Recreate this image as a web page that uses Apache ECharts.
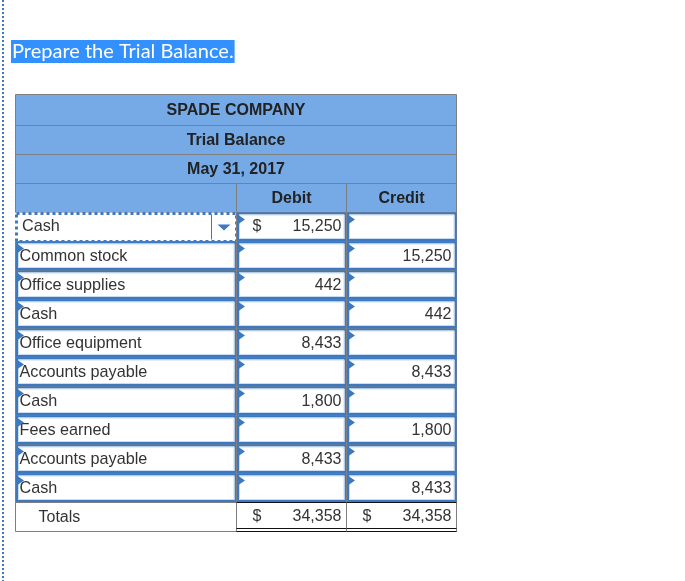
<!DOCTYPE html>
<html>
<head>
<meta charset="utf-8">
<title>Trial Balance</title>
<script src="https://cdn.jsdelivr.net/npm/echarts@6/dist/echarts.min.js"></script>
<style>
  html, body { margin: 0; padding: 0; background: #fff; }
  #chart { width: 685px; height: 581px; }
</style>
</head>
<body>
<div id="chart"></div>
<script>
'use strict'
var promptText = 'Prepare the Trial Balance.'
var headerLines = ['SPADE COMPANY', 'Trial Balance', 'May 31, 2017']
var columnHeads = ['Debit', 'Credit']
var accountNames = ['Cash', 'Common stock', 'Office supplies', 'Cash', 'Office equipment',
  'Accounts payable', 'Cash', 'Fees earned', 'Accounts payable', 'Cash']
var debitValues = [15250, null, 442, null, 8433, null, 1800, null, 8433, null]
var creditValues = [null, 15250, null, 442, null, 8433, null, 1800, null, 8433]
var totalsLabel = 'Totals'
var debitTotal = 34358
var creditTotal = 34358

var HEAD_BLUE = '#75aae6'
var GRID_GREY = '#7f7f7f'
var INPUT_BLUE = '#3c79c1'
var INPUT_PALE = '#c9dcf1'
var TEXT_DARK = '#333333'
var HEAD_TEXT = '#222222'
var BODY_FONT = '16px "Liberation Sans", Arial, sans-serif'
var NAME_FONT = '16.2px "Liberation Sans", Arial, sans-serif'
var BOLD_FONT = 'bold 16px "Liberation Sans", Arial, sans-serif'

// one band per table row, header rows first
var rowNames = headerLines.concat(['Columns'], accountNames, [totalsLabel])
var firstAccountRow = headerLines.length + 1
var totalsRow = rowNames.length - 1

function fmt (v) {
  return v === null ? '' : v.toLocaleString('en-US')
}

function snap (v) {
  return Math.floor(v) + 0.5
}

// pixel box of a cell from the axes
function cellBox (api) {
  var a = api.coord([api.value(0), api.value(2)])
  var b = api.coord([api.value(1), api.value(2)])
  var h = api.size([0, 1])[1]
  var x0 = snap(a[0])
  var x1 = snap(b[0])
  var y0 = snap(a[1] - h / 2)
  var y1 = snap(a[1] + h / 2)
  return { x: x0, y: y0, w: x1 - x0, h: y1 - y0 }
}

function label (text, x, y, align, font, fill) {
  return {
    type: 'text',
    style: { text: text, x: x, y: y, align: align, verticalAlign: 'middle', font: font, fill: fill }
  }
}

function triangle (x, y) {
  return {
    type: 'polygon',
    shape: { points: [[x, y], [x + 8, y + 5.5], [x, y + 11]] },
    style: { fill: INPUT_BLUE }
  }
}

function inputBox (b) {
  return [
    { type: 'rect', shape: { x: b.x, y: b.y, width: b.w, height: b.h }, style: { fill: '#fff', stroke: GRID_GREY, lineWidth: 1 } },
    { type: 'rect', shape: { x: b.x + 1.5, y: b.y + 1, width: b.w - 2.5, height: b.h - 2.5 }, style: { fill: '#fff', stroke: INPUT_BLUE, lineWidth: 2 } },
    { type: 'rect', shape: { x: b.x + 3, y: b.y + 2.5, width: b.w - 5.5, height: b.h - 5.5 }, style: { fill: '#fff', stroke: INPUT_PALE, lineWidth: 1 } }
  ]
}

function renderHeader (params, api) {
  var b = cellBox(api)
  var row = api.value(2)
  var top = row === 0 ? b.y - 31 + (b.h) : b.y
  var hgt = row === 0 ? 31 : b.h
  var text = row < headerLines.length ? headerLines[row] : (api.value(0) === 0 ? '' : columnHeads[api.value(0) - 2])
  return {
    type: 'group',
    children: [
      { type: 'rect', shape: { x: b.x, y: top, width: b.w, height: hgt }, style: { fill: HEAD_BLUE, stroke: GRID_GREY, lineWidth: 1 } },
      label(text, b.x + b.w / 2, top + hgt / 2 + 0.5, 'center', BOLD_FONT, HEAD_TEXT)
    ]
  }
}

function renderAccount (params, api) {
  var b = cellBox(api)
  var i = params.dataIndex
  if (i === 0) {
    // the focused dropdown row
    return {
      type: 'group',
      children: [
        { type: 'rect', shape: { x: b.x, y: b.y, width: b.w, height: b.h }, style: { fill: '#fff' } },
        { type: 'line', shape: { x1: b.x + b.w - 25, y1: b.y + 2, x2: b.x + b.w - 25, y2: b.y + b.h - 2 }, style: { stroke: INPUT_BLUE, lineWidth: 1 } },
        { type: 'rect', shape: { x: b.x + 1, y: b.y + 1, width: b.w - 1, height: b.h - 1 }, style: { fill: 'none', stroke: INPUT_BLUE, lineWidth: 3, lineDash: [3, 3] } },
        { type: 'polygon', shape: { points: [[b.x + b.w - 19, b.y + 12], [b.x + b.w - 6, b.y + 12], [b.x + b.w - 12.5, b.y + 18]] }, style: { fill: INPUT_BLUE } },
        label(accountNames[i], b.x + 6.5, b.y + b.h / 2 - 0.5, 'left', NAME_FONT, TEXT_DARK)
      ]
    }
  }
  return {
    type: 'group',
    children: inputBox(b).concat([
      label(accountNames[i], b.x + 4, b.y + b.h / 2 + 0.5, 'left', NAME_FONT, TEXT_DARK),
      triangle(b.x + 0.5, b.y + 1.5)
    ])
  }
}

function renderAmount (params, api) {
  var b = cellBox(api)
  var isDebit = api.value(0) === 2
  var i = params.dataIndex
  var rowIdx = isDebit ? i / 2 : (i - 1) / 2
  var v = isDebit ? debitValues[rowIdx] : creditValues[rowIdx]
  var textY = b.y + b.h / 2 + (rowIdx === 0 ? -0.5 : 0.5)
  var kids = inputBox(b)
  if (v !== null) kids.push(label(fmt(v), b.x + b.w - 5, textY, 'right', BODY_FONT, TEXT_DARK))
  if (i === 0) kids.push(label('$', b.x + 16, textY, 'left', BODY_FONT, TEXT_DARK))
  kids.push(triangle(b.x + 0.5, b.y + 1.5))
  return { type: 'group', children: kids }
}

function renderTotal (params, api) {
  var b = cellBox(api)
  var col = api.value(0)
  var kids = [{ type: 'rect', shape: { x: b.x, y: b.y, width: b.w, height: b.h }, style: { fill: '#fff', stroke: GRID_GREY, lineWidth: 1 } }]
  if (col === 0) {
    kids.push(label(totalsLabel, b.x + 23, b.y + b.h / 2 + 0.5, 'left', BODY_FONT, TEXT_DARK))
  } else {
    var v = col === 2 ? debitTotal : creditTotal
    kids.push(
      { type: 'line', shape: { x1: b.x, y1: b.y, x2: b.x + b.w, y2: b.y }, style: { stroke: '#111', lineWidth: 1 } },
      { type: 'line', shape: { x1: b.x, y1: b.y + b.h - 3, x2: b.x + b.w, y2: b.y + b.h - 3 }, style: { stroke: '#111', lineWidth: 1 } },
      { type: 'line', shape: { x1: b.x, y1: b.y + b.h, x2: b.x + b.w, y2: b.y + b.h }, style: { stroke: '#111', lineWidth: 1 } },
      label('$', b.x + 16, b.y + b.h / 2 - 0.5, 'left', BODY_FONT, TEXT_DARK),
      label(fmt(v), b.x + b.w - 5, b.y + b.h / 2 - 0.5, 'right', BODY_FONT, TEXT_DARK)
    )
  }
  return { type: 'group', children: kids }
}

var headerCells = headerLines.map(function (t, r) { return [0, 4, r] })
headerCells.push([0, 2, headerLines.length], [2, 3, headerLines.length], [3, 4, headerLines.length])

var accountCells = accountNames.map(function (t, r) { return [0, 2, firstAccountRow + r] })

var amountCells = []
accountNames.forEach(function (t, r) {
  amountCells.push([2, 3, firstAccountRow + r], [3, 4, firstAccountRow + r])
})

var totalCells = [[0, 2, totalsRow], [2, 3, totalsRow], [3, 4, totalsRow]]

function cellSeries (name, data, render) {
  return {
    name: name,
    type: 'custom',
    coordinateSystem: 'cartesian2d',
    renderItem: render,
    encode: { x: [0, 1], y: 2 },
    clip: false,
    silent: true,
    data: data
  }
}

var chart = echarts.init(document.getElementById('chart'), null, { renderer: 'canvas' })
chart.setOption({
  animation: false,
  backgroundColor: '#fff',
  title: {
    text: promptText,
    left: 11,
    top: 40,
    padding: [0, 1, 0, 1],
    backgroundColor: '#3390ff',
    textStyle: {
      color: '#fff',
      fontFamily: 'Lato, sans-serif',
      fontWeight: 'normal',
      fontSize: 20,
      lineHeight: 23
    }
  },
  grid: { left: 15.5, top: 96, width: 441, height: 435 },
  xAxis: { type: 'value', min: 0, max: 4, show: false },
  yAxis: { type: 'category', data: rowNames, inverse: true, show: false },
  graphic: [{
    type: 'line',
    silent: true,
    shape: { x1: 3, y1: 0, x2: 3, y2: 581 },
    style: { stroke: INPUT_BLUE, lineWidth: 2, lineDash: [2, 2] }
  }],
  series: [
    cellSeries('header', headerCells, renderHeader),
    cellSeries('accounts', accountCells, renderAccount),
    cellSeries('amounts', amountCells, renderAmount),
    cellSeries('totals', totalCells, renderTotal)
  ]
})
</script>
</body>
</html>
